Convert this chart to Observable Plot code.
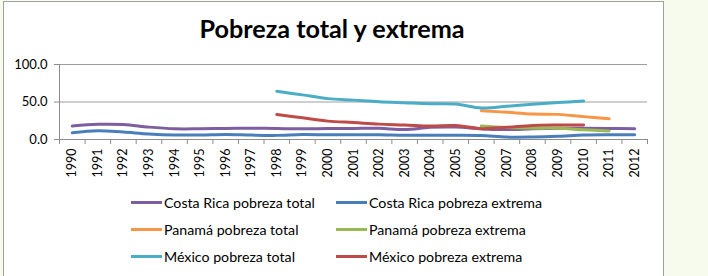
<!DOCTYPE html>
<html>
<head>
<meta charset="utf-8">
<script src="https://cdn.jsdelivr.net/npm/d3@7"></script>
<script src="https://cdn.jsdelivr.net/npm/@observablehq/plot@0.6"></script>
<style>
  html, body { margin: 0; padding: 0; width: 708px; height: 276px; overflow: hidden; background: #f6fbee; font-family: Lato, "Open Sans", sans-serif; color: #000; }
  #frame { position: absolute; left: 3px; top: 1px; width: 659px; height: 300px; border: 1px solid #a0a0a0; background: #fff; }
  #title { position: absolute; left: 0; top: 16px; width: 664px; text-align: center; font-weight: bold; font-size: 25.2px; line-height: 25.2px; }
  #chart { position: absolute; left: 0; top: 55px; }
  .item { position: absolute; height: 18px; display: flex; align-items: center; font-size: 14.2px; white-space: nowrap; }
  .swatch { width: 31px; height: 3px; margin-right: 2px; }
</style>
</head>
<body>
<div id="frame"></div>
<div id="title">Pobreza total y extrema</div>
<div id="chart"></div>
<div id="legend"></div>
<script>
// Years on the category axis
const years = d3.range(1990, 2013);

// Series names, in drawing order
const seriesNames = [
  "Costa Rica pobreza total",
  "Costa Rica pobreza extrema",
  "Panamá pobreza total",
  "Panamá pobreza extrema",
  "México pobreza total",
  "México pobreza extrema"
];
const seriesColors = ["#7d5fa0", "#4a7ebb", "#f79646", "#98b954", "#4bacc6", "#be4b48"];

// Percentages by year, 1990–2012 (null = no data)
const crTotal   = [17.9, 20.2, 19.9, 16.5, 14.3, 14.3, 14.8, 15.0, 14.6, 14.2, 14.6, 14.7, 15.1, 13.2, 16.2, 16.6, 14.0, 13.2, 14.3, 15.0, 15.0, 14.8, 14.4];
const crExtrema = [8.9, 11.8, 9.9, 7.4, 6.0, 6.0, 6.8, 5.9, 5.5, 6.6, 6.2, 6.2, 6.2, 5.6, 5.8, 5.8, 5.4, 3.2, 3.3, 4.3, 6.0, 6.3, 6.2];
const panTotal   = [null, null, null, null, null, null, null, null, null, null, null, null, null, null, null, null, 38.4, 36.3, 34.0, 33.5, 30.5, 27.7, null];
const panExtrema = [null, null, null, null, null, null, null, null, null, null, null, null, null, null, null, null, 18.0, 16.0, 15.2, 15.0, 13.0, 11.3, null];
const mexTotal   = [null, null, null, null, null, null, null, null, 64.2, 59.5, 54.5, 52.5, 50.4, 49.0, 47.7, 47.2, 42.0, 44.2, 47.0, 49.2, 51.2, null, null];
const mexExtrema = [null, null, null, null, null, null, null, null, 33.4, 29.0, 24.5, 22.6, 20.5, 19.4, 18.0, 18.6, 14.5, 16.3, 18.7, 19.3, 19.4, null, null];

const yTicks = [0, 50, 100];

const seriesValues = [crTotal, crExtrema, panTotal, panExtrema, mexTotal, mexExtrema];
const rows = seriesNames.flatMap((name, i) =>
  years.map((year, j) => ({series: name, year, value: seriesValues[i][j]}))
);

// Category boundaries for the x-axis tick marks
const bounds = d3.range(1989.5, 2013, 1);

const chart = Plot.plot({
  width: 708,
  height: 130,
  marginTop: 9,
  marginBottom: 46,
  marginLeft: 59,
  marginRight: 61,
  x: {domain: [1989.5, 2012.5]},
  y: {domain: [0, 100]},
  color: {domain: seriesNames, range: seriesColors},
  style: {fontFamily: "Lato, 'Open Sans', sans-serif", fontSize: "13px", color: "#000", background: "transparent", overflow: "visible"},
  marks: [
    Plot.ruleY([50, 100], {stroke: "#9d9d9d"}),
    Plot.ruleY([0], {stroke: "#8c8c8c"}),
    Plot.ruleX([1989.5], {y1: 0, y2: 100, stroke: "#8c8c8c"}),
    Plot.axisY(yTicks, {tickSize: 5, tickPadding: 7, tickFormat: d3.format(".1f"), label: null, stroke: "#8c8c8c", fill: "#000", fontSize: 13}),
    Plot.axisX(bounds, {tickSize: 5, tickFormat: () => "", label: null, stroke: "#8c8c8c"}),
    Plot.axisX(years, {tickSize: 0, tickPadding: 9, tickRotate: -90, tickFormat: d => String(d), label: null, fill: "#000", fontSize: 12.5}),
    Plot.line(rows, {x: "year", y: "value", z: "series", stroke: "series", strokeWidth: 3, curve: "catmull-rom"})
  ]
});
document.getElementById("chart").appendChild(chart);

// Legend: three rows, two columns
const legend = document.getElementById("legend");
const colX = [131, 336];
const rowY = [202, 229.7, 256.7];
seriesNames.forEach((name, i) => {
  const item = document.createElement("div");
  item.className = "item";
  item.style.left = colX[i % 2] + "px";
  item.style.top = (rowY[Math.floor(i / 2)] - 9) + "px";
  const sw = document.createElement("div");
  sw.className = "swatch";
  sw.style.background = seriesColors[i];
  const label = document.createElement("span");
  label.textContent = name;
  item.appendChild(sw);
  item.appendChild(label);
  legend.appendChild(item);
});
</script>
</body>
</html>
